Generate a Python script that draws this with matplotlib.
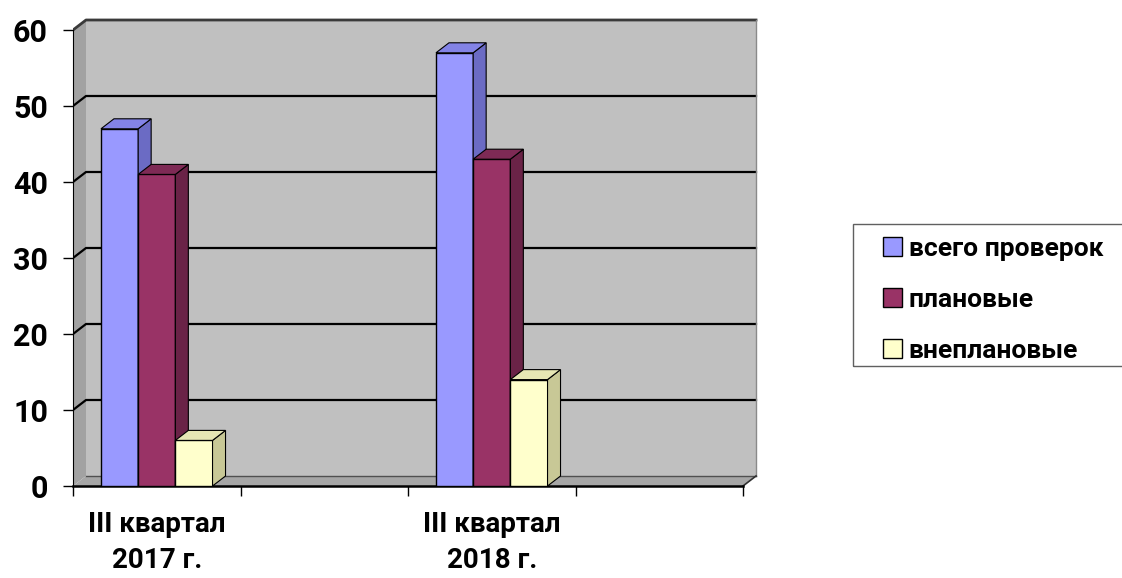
import matplotlib.pyplot as plt
from matplotlib.patches import Polygon, Rectangle

# data
categories = ["III квартал\n2017 г.", "III квартал\n2018 г."]
cat_slots = [0, 2]          # category slots on a 4-slot axis (slots 1 and 3 are empty)
series = ["всего проверок", "плановые", "внеплановые"]
total = [47, 57]
planned = [41, 43]
unplanned = [6, 14]
yticks = [0, 10, 20, 30, 40, 50, 60]

front_colors = ["#9999FF", "#993366", "#FFFFCC"]
side_colors = ["#6B6BC4", "#6A2347", "#C8C896"]
top_colors = ["#8383E6", "#7E2A55", "#E6E6B4"]

plt.rcParams['font.family'] = ['Roboto', 'DejaVu Sans']
plt.rcParams['font.weight'] = 'bold'

W, H = 1122, 578
fig = plt.figure(figsize=(W / 100, H / 100), dpi=100)

# front plane: x=0 at px 73, y=0 at px 486
x0, y0 = 73, 486
px_x, px_y = 167.5, 7.6
DX, DY = 13 / px_x, 10 / px_y
nslots = 4
xmax = nslots + DX + 0.01
ymax = 60 + DY + 0.3
ax = fig.add_axes([x0 / W, (H - y0) / H, xmax * px_x / W, ymax * px_y / H])
ax.set_xlim(0, xmax)
ax.set_ylim(0, ymax)

# walls and floor
ax.add_patch(Rectangle((DX, DY), nslots, 60, fc="#C0C0C0", ec="none", zorder=0))
ax.add_patch(Polygon([(0, 0), (DX, DY), (DX, 60 + DY), (0, 60)], fc="#A2A2A2", ec="none", zorder=0.5))
ax.add_patch(Polygon([(0, 0), (nslots, 0), (nslots + DX, DY), (DX, DY)], fc="#A6A6A6", ec="none", zorder=0.5))

for v in yticks[1:-1]:
    ax.plot([0, DX, nslots + DX], [v, v + DY, v + DY], color="black", lw=1.6, zorder=1)
ax.plot([0, DX, nslots + DX], [60, 60 + DY, 60 + DY], color="#3a3a3a", lw=2, zorder=1)
ax.plot([nslots + DX] * 2, [DY, 60 + DY], color="#8a8a8a", lw=1, zorder=1)
ax.plot([DX, nslots + DX], [DY, DY], color="#505050", lw=1, zorder=1)
ax.plot([nslots, nslots + DX], [0, DY], color="#303030", lw=1.2, zorder=1)

# 3d-looking bars
w, off = 0.222, 0.167
handles = []
for i, vals in enumerate([total, planned, unplanned]):
    lefts = [c + off + i * w for c in cat_slots]
    z = 3 + i
    b = ax.bar(lefts, vals, width=w, align="edge", color=front_colors[i],
               edgecolor="black", linewidth=1, zorder=z, label=series[i])
    handles.append(b)
    for l, h in zip(lefts, vals):
        r = l + w
        ax.add_patch(Polygon([(r, 0), (r + DX, DY), (r + DX, h + DY), (r, h)],
                             fc=side_colors[i], ec="black", lw=0.8, zorder=z))
        ax.add_patch(Polygon([(l, h), (r, h), (r + DX, h + DY), (l + DX, h + DY)],
                             fc=top_colors[i], ec="black", lw=0.8, zorder=z))

# axes
for s in ["top", "right"]:
    ax.spines[s].set_visible(False)
ax.spines["left"].set_bounds(0, 60)
ax.spines["bottom"].set_bounds(0, nslots)
ax.spines["bottom"].set_linewidth(1.8)
ax.spines["bottom"].set_zorder(2)
ax.set_yticks(yticks)
ax.tick_params(axis="y", direction="out", length=7, width=1, labelsize=22, pad=11)
ax.set_xticks(range(nslots + 1))
ax.set_xticklabels([])
ax.tick_params(axis="x", which="major", direction="out", length=7, width=1)
ax.set_xticks([c + 0.5 for c in cat_slots], minor=True)
ax.set_xticklabels(categories, minor=True, fontsize=20, linespacing=1.45)
ax.tick_params(axis="x", which="minor", length=0, pad=18)

# legend
ax.legend(handles=handles, loc="center left", bbox_to_anchor=(883 / W, (H - 300) / H),
          bbox_transform=fig.transFigure, frameon=False, fontsize=19,
          borderaxespad=0, borderpad=0,
          handlelength=0.72, handleheight=0.72, handletextpad=0.25, labelspacing=1.02)
fig.patches.append(Rectangle((853 / W, (H - 366) / H), 0.3, 142 / H, transform=fig.transFigure,
                             fill=False, ec="#606060", lw=1))

fig.savefig("out.png", dpi=100)
